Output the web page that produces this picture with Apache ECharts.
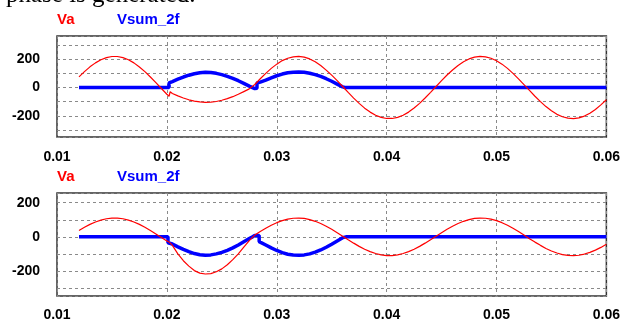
<!DOCTYPE html>
<html>
<head>
<meta charset="utf-8">
<script src="https://cdn.jsdelivr.net/npm/echarts@6/dist/echarts.min.js"></script>
<style>
html,body{margin:0;padding:0;background:#fff;}
#c{width:623px;height:322px;}
</style>
</head>
<body>
<div id="c"></div>
<script>
// ---- data (time in s, voltage) ----
const xTicks = [0.01, 0.02, 0.03, 0.04, 0.05, 0.06];
const yLabelValues = [200, 0, -200];
const legendNames = ['Va', 'Vsum_2f'];
const captionText = 'phase is generated.';

const vaTop = [
  [0.012,75],[0.0125,112],[0.013,146],[0.0135,174],[0.014,196],[0.0145,211],[0.015,219],[0.0155,219],
  [0.016,211],[0.0165,196],[0.017,174],[0.0175,145],[0.018,112],[0.0185,74],[0.019,34],[0.0195,-7],
  [0.02,-48],[0.0202,-62],[0.0203,-30],[0.0205,-42],[0.021,-59],[0.0215,-74],[0.022,-87],[0.0225,-96],
  [0.023,-102],[0.0235,-105],[0.024,-103],[0.0245,-99],[0.025,-90],[0.0255,-79],[0.026,-65],[0.0265,-48],
  [0.027,-29],[0.0275,-10],[0.028,21],[0.0285,62],[0.029,100],[0.0295,135],[0.03,165],[0.0305,190],
  [0.031,207],[0.0315,217],[0.032,220],[0.0325,215],[0.033,202],[0.0335,182],[0.034,155],[0.0345,123],
  [0.035,87],[0.0355,48],[0.036,7],[0.0365,-35],[0.037,-75],[0.0375,-112],[0.038,-146],[0.0385,-174],
  [0.039,-196],[0.0395,-211],[0.04,-219],[0.0405,-219],[0.041,-211],[0.0415,-196],[0.042,-174],[0.0425,-145],
  [0.043,-112],[0.0435,-74],[0.044,-34],[0.0445,7],[0.045,48],[0.0455,88],[0.046,124],[0.0465,156],
  [0.047,182],[0.0475,202],[0.048,215],[0.0485,220],[0.049,217],[0.0495,207],[0.05,189],[0.0505,165],
  [0.051,135],[0.0515,100],[0.052,61],[0.0525,20],[0.053,-21],[0.0535,-62],[0.054,-100],[0.0545,-135],
  [0.055,-165],[0.0555,-190],[0.056,-207],[0.0565,-217],[0.057,-220],[0.0575,-215],[0.058,-202],[0.0585,-182],
  [0.059,-155],[0.0595,-123],[0.06,-87]
];
const vsumTop = [
  [0.012,0],[0.0202,0],[0.0202,32],[0.0205,42],[0.021,59],[0.0215,74],[0.022,87],[0.0225,97],
  [0.023,104],[0.0235,108],[0.024,106],[0.0245,100],[0.025,91],[0.0255,79],[0.026,65],[0.0265,48],
  [0.027,29],[0.0275,10],[0.028,-8],[0.0282,-5],[0.0282,32],[0.0285,38],[0.029,52],[0.0295,68],
  [0.03,83],[0.0305,95],[0.031,104],[0.0315,108],[0.032,110],[0.0325,108],[0.033,101],[0.0335,91],
  [0.034,78],[0.0345,62],[0.035,44],[0.0355,24],[0.036,4],[0.0362,0],[0.06,0]
];
const vaBottom = [
  [0.012,37],[0.0125,56],[0.013,73],[0.0135,87],[0.014,98],[0.0145,106],[0.015,110],[0.0155,110],
  [0.016,106],[0.0165,98],[0.017,87],[0.0175,73],[0.018,56],[0.0185,37],[0.019,17],[0.0195,-4],
  [0.02,-24],[0.0202,-30],[0.0205,-50],[0.021,-100],[0.0215,-140],[0.022,-172],[0.0225,-198],[0.023,-213],
  [0.0235,-218],[0.024,-216],[0.0245,-205],[0.025,-188],[0.0255,-164],[0.026,-134],[0.0265,-100],[0.027,-61],
  [0.0275,-22],[0.028,10],[0.0285,31],[0.029,50],[0.0295,68],[0.03,83],[0.0305,95],[0.031,104],
  [0.0315,109],[0.032,110],[0.0325,108],[0.033,101],[0.0335,91],[0.034,78],[0.0345,62],[0.035,44],
  [0.0355,24],[0.036,4],[0.0365,-17],[0.037,-37],[0.0375,-56],[0.038,-73],[0.0385,-87],[0.039,-98],
  [0.0395,-106],[0.04,-110],[0.0405,-110],[0.041,-106],[0.0415,-98],[0.042,-87],[0.0425,-73],[0.043,-56],
  [0.0435,-37],[0.044,-17],[0.0445,4],[0.045,24],[0.0455,44],[0.046,62],[0.0465,78],[0.047,91],
  [0.0475,101],[0.048,108],[0.0485,110],[0.049,109],[0.0495,104],[0.05,95],[0.0505,83],[0.051,68],
  [0.0515,50],[0.052,31],[0.0525,10],[0.053,-11],[0.0535,-31],[0.054,-50],[0.0545,-68],[0.055,-83],
  [0.0555,-95],[0.056,-104],[0.0565,-109],[0.057,-110],[0.0575,-108],[0.058,-101],[0.0585,-91],[0.059,-78],
  [0.0595,-62],[0.06,-44]
];
const vsumBottom = [
  [0.012,0],[0.0201,0],[0.0201,-35],[0.0205,-42],[0.021,-59],[0.0215,-74],[0.022,-87],[0.0225,-98],
  [0.023,-105],[0.0235,-108],[0.024,-106],[0.0245,-100],[0.025,-91],[0.0255,-79],[0.026,-65],[0.0265,-48],
  [0.027,-29],[0.0275,-10],[0.0278,0],[0.028,8],[0.0284,8],[0.0284,-28],[0.0285,-30],[0.029,-48],
  [0.0295,-65],[0.03,-80],[0.0305,-93],[0.031,-102],[0.0315,-107],[0.032,-108],[0.0325,-106],[0.033,-100],
  [0.0335,-90],[0.034,-77],[0.0345,-61],[0.035,-43],[0.0355,-24],[0.036,-5],[0.0363,0],[0.06,0]
];

// ---- chart ----
const RED = '#ff0000', BLUE = '#0000ff';
const FONT = "'Liberation Sans', Arial, sans-serif";
const chart = echarts.init(document.getElementById('c'), null, {renderer: 'canvas'});

function xAxis(gi, margin) {
  return {
    type: 'value', gridIndex: gi, min: xTicks[0], max: xTicks[xTicks.length - 1], interval: 0.01,
    axisLine: {show: false}, axisTick: {show: false},
    axisLabel: {
      margin: margin, color: '#000', fontWeight: 'bold', fontSize: 14, fontFamily: FONT,
      formatter: v => v.toFixed(2)
    },
    splitLine: {show: true, lineStyle: {color: '#8a8a8a', width: 1, type: [3, 3]}}
  };
}
function yAxis(gi, mn, mx, n) {
  return {
    type: 'value', gridIndex: gi, min: mn, max: mx, splitNumber: n, minInterval: 100, maxInterval: 100,
    axisLine: {show: false}, axisTick: {show: false},
    axisLabel: {
      margin: 17, color: '#000', fontWeight: 'bold', fontSize: 14, fontFamily: FONT,
      showMinLabel: false, showMaxLabel: false,
      formatter: v => (yLabelValues.indexOf(Math.round(v)) >= 0 && Math.abs(v - Math.round(v)) < 1e-6) ? String(Math.round(v)) : ''
    },
    splitLine: {show: true, lineStyle: {color: '#8a8a8a', width: 1, type: [3, 3]}}
  };
}
function line(name, data, gi, color, width, z) {
  return {
    name: name, type: 'line', xAxisIndex: gi, yAxisIndex: gi, data: data,
    showSymbol: false, symbol: 'none', smooth: false, z: z,
    lineStyle: {color: color, width: width}, itemStyle: {color: color}
  };
}
function legendText(x, y, text, color) {
  return {type: 'text', left: x, top: y, z: 100,
    style: {text: text, fill: color, font: "bold 15px " + FONT}};
}

chart.setOption({
  animation: false,
  backgroundColor: '#fff',
  grid: [
    {left: 57, top: 36, width: 552, height: 101, show: true, borderColor: '#333', borderWidth: 1.5, backgroundColor: 'transparent'},
    {left: 57, top: 193, width: 552, height: 103, show: true, borderColor: '#333', borderWidth: 1.5, backgroundColor: 'transparent'}
  ],
  xAxis: [xAxis(0, 13), xAxis(1, 12)],
  yAxis: [yAxis(0, -350, 364, 7), yAxis(1, -347, 257, 6)],
  series: [
    line(legendNames[1], vsumTop, 0, BLUE, 3.5, 2),
    line(legendNames[0], vaTop, 0, RED, 1.2, 3),
    line(legendNames[1], vsumBottom, 1, BLUE, 3.5, 2),
    line(legendNames[0], vaBottom, 1, RED, 1.2, 3)
  ],
  graphic: [
    {type: 'text', left: 6, top: -17, z: 100,
      style: {text: captionText, fill: '#000', font: "25px 'Liberation Serif', 'Times New Roman', serif"}},
    legendText(57, 12, legendNames[0], RED),
    legendText(117, 12, legendNames[1], BLUE),
    legendText(57, 169, legendNames[0], RED),
    legendText(117, 169, legendNames[1], BLUE)
  ]
});
</script>
</body>
</html>
